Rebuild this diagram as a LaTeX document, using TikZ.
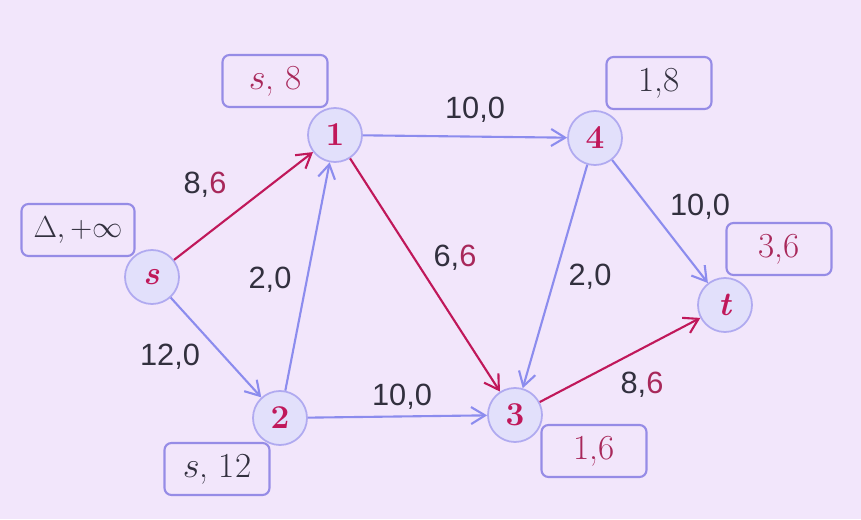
\documentclass[tikz,border=0pt]{standalone}
\usepackage{amsmath, amssymb}
\usepackage{fontspec}
\newfontfamily\edgefont{Liberation Sans}
\usepackage{tikz}
\usetikzlibrary{arrows.meta, positioning}

\definecolor{BgLilac}{RGB}{242,230,251}
\definecolor{FlowBlue}{RGB}{140,140,238}
\definecolor{FlowRed}{RGB}{192,24,90}
\definecolor{NodeFill}{RGB}{226,224,251}
\definecolor{NodeLine}{RGB}{176,170,240}
\definecolor{BoxLine}{RGB}{150,140,230}
\definecolor{LabelRed}{RGB}{168,40,90}
\definecolor{LabelGray}{RGB}{50,48,62}

\tikzset{
  vertex/.style={circle, draw=NodeLine, fill=NodeFill, line width=1pt,
                 minimum size=1.08cm, inner sep=0pt, text=FlowRed,
                 font=\fontsize{19}{21}\selectfont\bfseries},
  tag/.style={draw=BoxLine, rounded corners=4pt, line width=1.2pt,
              minimum width=2.1cm, minimum height=1.04cm, inner sep=2pt,
              font=\fontsize{20}{22}\selectfont, text=LabelGray},
  capflow/.style={font=\edgefont\fontsize{17.5}{19}\selectfont, text=LabelGray, inner sep=1pt},
  arc/.style={draw=FlowBlue, line width=1.2pt,
              -{Straight Barb[length=2.8mm, width=3.4mm]}},
  flow/.style={arc, draw=FlowRed}
}

\begin{document}
\begin{tikzpicture}
  \fill[BgLilac] (0,0) rectangle (17.22,10.38);
  \useasboundingbox (0,0) rectangle (17.22,10.38);

  % vertices
  \node[vertex] (s) at (3.04,4.84) {\textit{s}};
  \node[vertex] (v1) at (6.70,7.68) {1};
  \node[vertex] (v2) at (5.60,2.02) {2};
  \node[vertex] (v3) at (10.30,2.08) {3};
  \node[vertex] (v4) at (11.90,7.62) {4};
  \node[vertex] (t) at (14.50,4.28) {\textit{t}};

  % edges
  \draw[flow] (s) -- (v1);
  \draw[arc] (s) -- (v2);
  \draw[arc] (v2) -- (v1);
  \draw[arc] (v2) -- (v3);
  \draw[arc] (v1) -- (v4);
  \draw[flow] (v1) -- (v3);
  \draw[arc] (v4) -- (v3);
  \draw[arc] (v4) -- (t);
  \draw[flow] (v3) -- (t);

  % capacity, flow
  \node[capflow] (c-s1) at (4.10,6.68) {8,\textcolor{LabelRed}{6}};
  \node[capflow] (c-s2) at (3.40,3.24) {12,0};
  \node[capflow] (c-21) at (5.40,4.78) {2,0};
  \node[capflow] (c-14) at (9.50,8.18) {10,0};
  \node[capflow] (c-13) at (9.10,5.22) {6,\textcolor{LabelRed}{6}};
  \node[capflow] (c-43) at (11.80,4.84) {2,0};
  \node[capflow] (c-4t) at (14.00,6.24) {10,0};
  \node[capflow] (c-23) at (8.04,2.44) {10,0};
  \node[capflow] (c-3t) at (12.84,2.68) {8,\textcolor{LabelRed}{6}};

  % labels
  \node[tag, minimum width=2.26cm, font=\fontsize{18}{20}\selectfont] (l-s) at (1.56,5.78) {$\Delta, +\infty$};
  \node[tag, text=LabelRed] (l-1) at (5.50,8.76) {$s$, 8};
  \node[tag] (l-4) at (13.18,8.72) {1,8};
  \node[tag, text=LabelRed] (l-t) at (15.58,5.40) {3,6};
  \node[tag] (l-2) at (4.34,1.00) {$s$, 12};
  \node[tag, text=LabelRed] (l-3) at (11.88,1.36) {1,6};
\end{tikzpicture}
\end{document}
